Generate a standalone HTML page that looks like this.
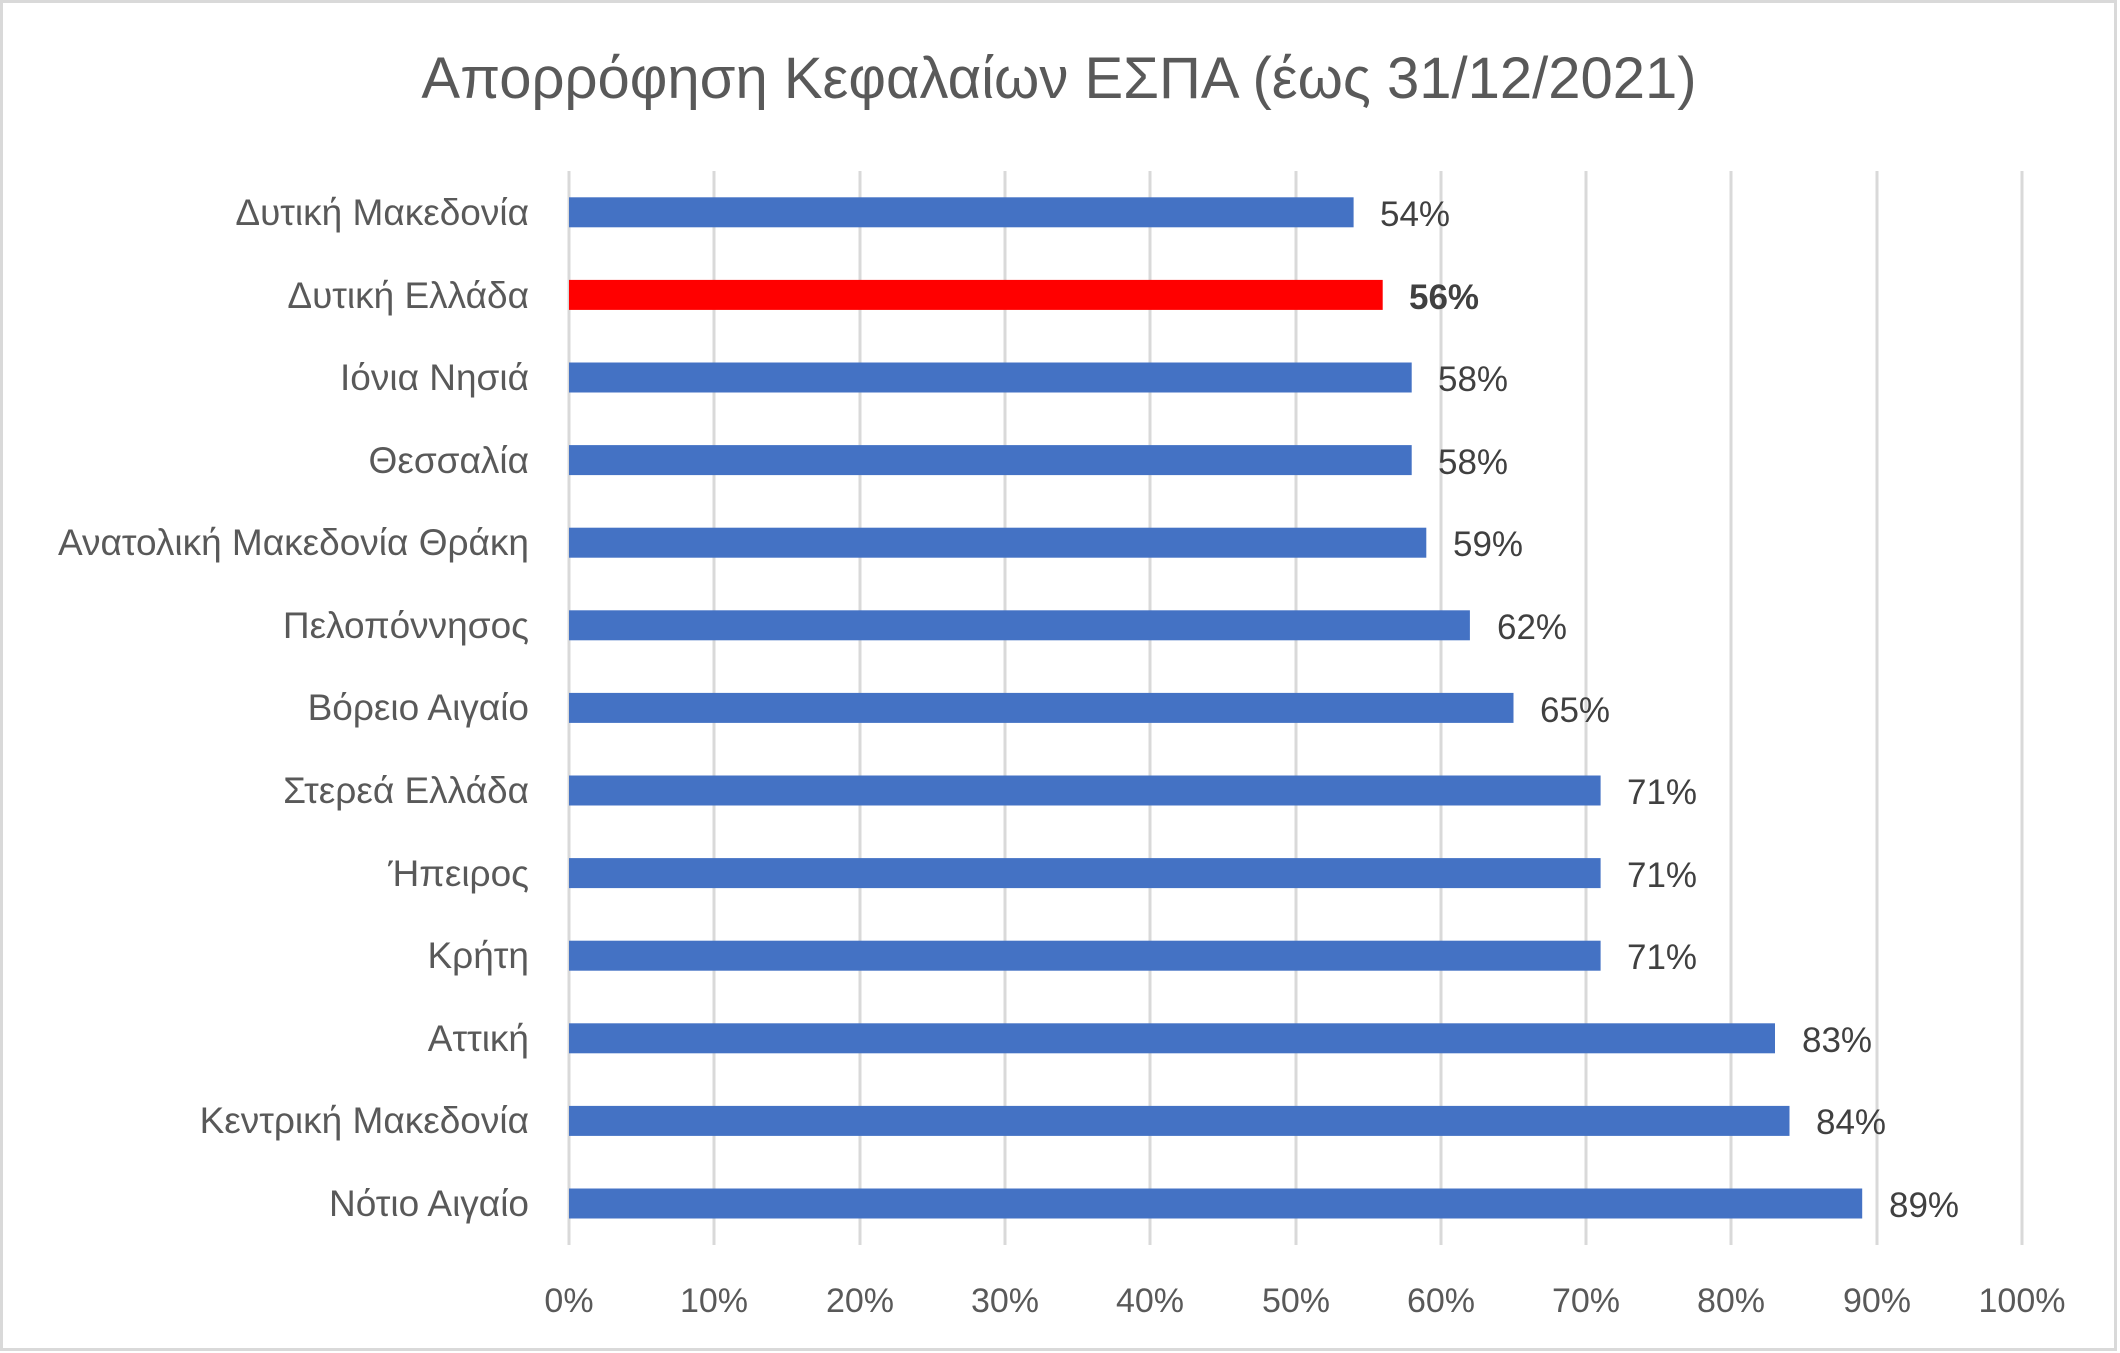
<!DOCTYPE html>
<html><head><meta charset="utf-8"><style>
body{margin:0;background:#fff}
svg{display:block}
text{font-family:"Liberation Sans","DejaVu Sans",sans-serif}
</style></head><body>
<svg width="2120" height="1353" viewBox="0 0 2120 1353" xmlns="http://www.w3.org/2000/svg">
<rect x="1.5" y="1.5" width="2114" height="1348" fill="#fff" stroke="#d9d9d9" stroke-width="3"/>
<text x="1059" y="98" font-size="58" fill="#595959" text-anchor="middle">Απορρόφηση Κεφαλαίων ΕΣΠΑ (έως 31/12/2021)</text>
<g stroke="#d9d9d9" stroke-width="3">
<line x1="569" y1="171" x2="569" y2="1245"/><line x1="714" y1="171" x2="714" y2="1245"/><line x1="860" y1="171" x2="860" y2="1245"/><line x1="1005" y1="171" x2="1005" y2="1245"/><line x1="1150" y1="171" x2="1150" y2="1245"/><line x1="1296" y1="171" x2="1296" y2="1245"/><line x1="1441" y1="171" x2="1441" y2="1245"/><line x1="1586" y1="171" x2="1586" y2="1245"/><line x1="1731" y1="171" x2="1731" y2="1245"/><line x1="1877" y1="171" x2="1877" y2="1245"/><line x1="2022" y1="171" x2="2022" y2="1245"/>
</g>
<g font-size="34" fill="#595959" text-anchor="middle">
<text x="569" y="1312">0%</text><text x="714" y="1312">10%</text><text x="860" y="1312">20%</text><text x="1005" y="1312">30%</text><text x="1150" y="1312">40%</text><text x="1296" y="1312">50%</text><text x="1441" y="1312">60%</text><text x="1586" y="1312">70%</text><text x="1731" y="1312">80%</text><text x="1877" y="1312">90%</text><text x="2022" y="1312">100%</text>
</g>
<g fill="#4472c4">
<rect x="569" y="197.3" width="784.6" height="30"/>
<rect x="569" y="279.9" width="813.7" height="30" fill="#ff0000"/>
<rect x="569" y="362.5" width="842.7" height="30"/>
<rect x="569" y="445.1" width="842.7" height="30"/>
<rect x="569" y="527.7" width="857.3" height="30"/>
<rect x="569" y="610.3" width="900.9" height="30"/>
<rect x="569" y="692.9" width="944.5" height="30"/>
<rect x="569" y="775.5" width="1031.6" height="30"/>
<rect x="569" y="858.1" width="1031.6" height="30"/>
<rect x="569" y="940.7" width="1031.6" height="30"/>
<rect x="569" y="1023.3" width="1206" height="30"/>
<rect x="569" y="1105.9" width="1220.5" height="30"/>
<rect x="569" y="1188.5" width="1293.2" height="30"/>
</g>
<g font-size="37" fill="#595959" text-anchor="end">
<text x="529" y="225">Δυτική Μακεδονία</text>
<text x="529" y="308">Δυτική Ελλάδα</text>
<text x="529" y="390">Ιόνια Νησιά</text>
<text x="529" y="473">Θεσσαλία</text>
<text x="529" y="555">Ανατολική Μακεδονία Θράκη</text>
<text x="529" y="638">Πελοπόννησος</text>
<text x="529" y="720">Βόρειο Αιγαίο</text>
<text x="529" y="803">Στερεά Ελλάδα</text>
<text x="529" y="886">Ήπειρος</text>
<text x="529" y="968">Κρήτη</text>
<text x="529" y="1051">Αττική</text>
<text x="529" y="1133">Κεντρική Μακεδονία</text>
<text x="529" y="1216">Νότιο Αιγαίο</text>
</g>
<g font-size="35" fill="#404040">
<text x="1380" y="226">54%</text>
<text x="1409" y="309" font-weight="bold">56%</text>
<text x="1438" y="391">58%</text>
<text x="1438" y="474">58%</text>
<text x="1453" y="556">59%</text>
<text x="1497" y="639">62%</text>
<text x="1540" y="722">65%</text>
<text x="1627" y="804">71%</text>
<text x="1627" y="887">71%</text>
<text x="1627" y="969">71%</text>
<text x="1802" y="1052">83%</text>
<text x="1816" y="1134">84%</text>
<text x="1889" y="1217">89%</text>
</g>
</svg>
</body></html>
